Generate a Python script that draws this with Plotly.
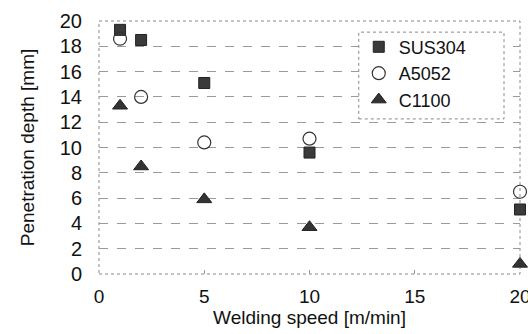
import plotly.graph_objects as go

speed = [1, 2, 5, 10, 20]
sus304 = [19.3, 18.5, 15.1, 9.6, 5.1]
a5052 = [18.6, 14.0, 10.4, 10.7, 6.5]
c1100 = [13.3, 8.5, 5.9, 3.7, 0.8]

x_ticks = [0, 5, 10, 15, 20]
y_ticks = [0, 2, 4, 6, 8, 10, 12, 14, 16, 18, 20]

FONT = "Liberation Sans, Arial, sans-serif"

fig = go.Figure()
fig.add_trace(go.Scatter(x=speed, y=sus304, mode="markers", name="SUS304",
                         marker=dict(symbol="square", size=11, color="#3a3a3a",
                                     line=dict(color="#222", width=1)),
                         cliponaxis=False))
fig.add_trace(go.Scatter(x=speed, y=a5052, mode="markers", name="A5052",
                         marker=dict(symbol="circle-open", size=13, color="#333",
                                     line=dict(width=1.2)),
                         cliponaxis=False))
fig.add_trace(go.Scatter(x=speed, y=c1100, mode="markers", name="C1100",
                         marker=dict(symbol="triangle-up", size=13, color="#333",
                                     line=dict(color="#222", width=1)),
                         cliponaxis=False))

fig.update_layout(
    width=528, height=334,
    margin=dict(l=99, r=8, t=21, b=60),
    paper_bgcolor="white", plot_bgcolor="white",
    font=dict(family=FONT, size=19, color="#111"),
    showlegend=True,
    legend=dict(x=0.617, y=0.97, xanchor="left", yanchor="top",
                bgcolor="rgba(0,0,0,0)", borderwidth=0,
                font=dict(size=18), itemwidth=30),
    xaxis=dict(range=[0, 20], tickvals=x_ticks, showgrid=False, zeroline=False,
               ticks="inside", ticklen=4, tickcolor="#999", automargin=False,
               ticklabelstandoff=9, ticklabeloverflow="allow",
               title=dict(text="Welding speed [m/min]", standoff=0, font=dict(size=19)),
               tickfont=dict(size=19), showline=False),
    yaxis=dict(range=[0, 20], tickvals=y_ticks, showgrid=True, gridcolor="#9a9a9a",
               griddash="dash", gridwidth=1, zeroline=False, ticks="", automargin=False,
               ticklabelstandoff=16,
               title=dict(text="Penetration depth [mm]", standoff=20, font=dict(size=19)),
               tickfont=dict(size=20), showline=False),
    shapes=[
        dict(type="rect", xref="paper", yref="paper", x0=0, x1=1, y0=0, y1=1,
             line=dict(color="#888", width=1, dash="dot"), layer="below"),
        dict(type="rect", xref="paper", yref="paper", x0=0.617, x1=0.962, y0=0.613, y1=0.956,
             line=dict(color="#888", width=1, dash="dot"), fillcolor="white", layer="above"),
    ],
)

fig.write_html("out.html", config={"displayModeBar": False},
               post_script="document.body.style.margin='0';document.body.style.overflow='hidden';")
